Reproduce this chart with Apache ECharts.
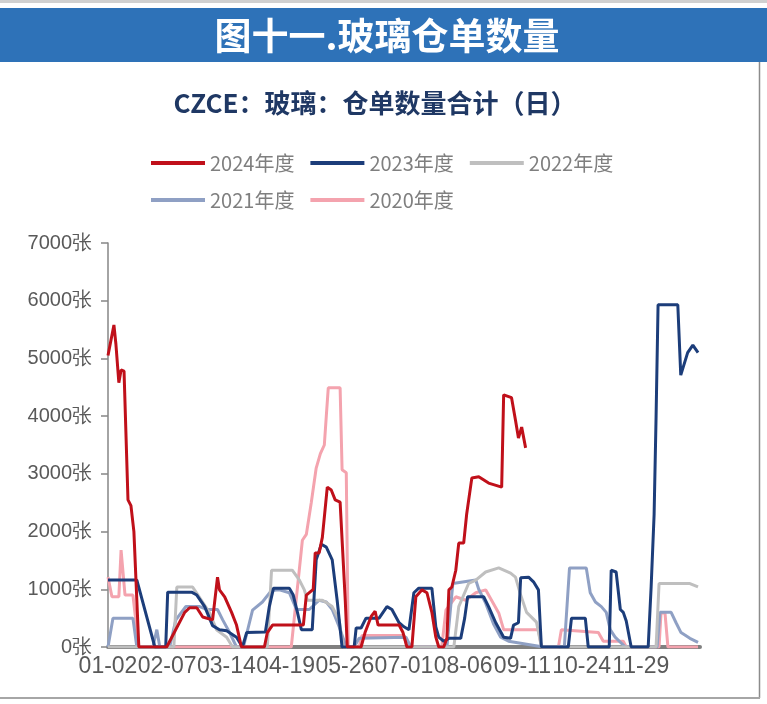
<!DOCTYPE html>
<html>
<head>
<meta charset="utf-8">
<script src="https://cdn.jsdelivr.net/npm/echarts@6/dist/echarts.min.js"></script>
<style>
html,body{margin:0;padding:0;background:#fff;}
#chart{width:767px;height:704px;}
</style>
</head>
<body>
<div id="chart"></div>
<script>
// ---- data (x = trading-day index from 01-02, y = 张) ----
const tickLabels = ['01-02','02-07','03-14','04-19','05-26','07-01','08-06','09-11','10-24','11-29'];
const seriesNames = ['2024年度','2023年度','2022年度','2021年度','2020年度'];

const s2024 = [[0,5050],[2.4,5580],[3.2,5250],[4.4,4580],[5.3,4800],[6.5,4780],[8.1,2550],[9.3,2450],[10.5,2000],[12.5,0],
  [23.8,0],[31.1,600],[33.1,680],[36,680],[38.4,520],[42.4,470],[44.4,1210],[45.2,990],[47.3,870],[50.1,600],[52.1,380],[54.1,0],
  [63.4,0],[64.6,250],[66.7,380],[79.2,380],[80.4,900],[83.2,1000],[84,1630],[85.6,1630],[86.9,1900],[88.9,2770],[90.5,2720],[92.1,2550],[94.1,2510],[96.2,800],[97,0],
  [102.6,0],[104.2,250],[106.7,530],[108.3,620],[109.5,380],[118,380],[119.6,250],[121.2,0],
  [123.2,0],[124.8,870],[127.3,990],[129.3,940],[131.3,600],[132.9,170],[134.1,0],
  [136.1,0],[137.4,150],[138.2,990],[139.4,1040],[141,1330],[142.2,1800],[144.2,1800],[145.4,2300],[147.5,2930],[150.3,2950],[154.3,2840],[159.6,2770],
  [160.4,4370],[163.6,4320],[165.2,3930],[166.4,3620],[167.7,3810],[169.3,3450]];

const s2023 = [[0,1160],[11.7,1160],[19,0],[23.4,0],[24.2,950],[33.9,950],[36,900],[39.2,700],[42.4,370],[45.2,300],[48.1,280],[52.1,170],[54.5,0],
  [56.2,250],[63.8,260],[65.4,700],[67.1,1020],[73.5,1020],[75.1,900],[76.8,600],[78.4,300],[82.8,300],[84.4,1510],[86.5,1780],[88.5,1730],[90.9,1510],[92.9,810],[94.9,0],
  [99.8,0],[100.6,330],[102.6,330],[104.6,500],[109.9,500],[113.1,700],[115.1,650],[118,420],[120,350],[122,300],[124,940],[126,1020],[131.3,1020],[132.9,350],[134.1,170],[136.1,100],
  [138.2,150],[143,150],[144.6,500],[145.8,870],[152.3,870],[154.3,700],[157.2,420],[160.4,170],[163.2,150],[164.4,380],[166.4,420],[167.3,1200],[170.5,1210],[172.5,1130],[174.5,990],[175.7,0],
  [186.6,0],[187.9,500],[193.5,500],[194.7,0],[203.2,0],[204,1330],[206,1300],[207.7,650],[208.9,600],[210.1,450],[212.1,0],
  [219,0],[220.2,1050],[221.4,2300],[222.2,4000],[223,5930],[231,5930],[232.2,4710],[233,4700],[235,5100],[237.1,5230],[239.2,5100]];

const s2022 = [[0,0],[26.7,0],[27.9,1040],[34.3,1040],[37.2,850],[41.2,590],[44,300],[48.1,170],[50.5,0],
  [64.6,0],[66.3,1330],[74.7,1330],[77.6,1160],[79.6,990],[80.8,810],[86.9,810],[88.9,760],[90.9,700],[93.7,470],[95.3,0],
  [140.2,0],[142.2,700],[146.2,1100],[149.1,1160],[153.1,1300],[158.4,1370],[163.2,1280],[165.2,1210],[167.3,900],[169.7,600],[173.7,430],[175.7,0],
  [222.2,0],[223.4,1100],[235.9,1100],[239.2,1040]];

const s2021 = [[0,0],[2,500],[10.1,500],[11.7,0],[18.2,0],[19.8,300],[21,0],[25,0],[27.5,470],[31.5,700],[37.2,700],[40,650],[44.4,650],[46.5,470],[49.3,250],[52.1,0],
  [54.9,0],[58.6,640],[62.6,780],[66.3,980],[69.5,990],[73.5,940],[76.4,650],[81.6,650],[85.6,810],[88.5,780],[90.9,650],[93.7,350],[96.6,0],
  [99.8,0],[101.8,150],[120.8,170],[122.8,0],[137.4,0],[139.8,1100],[149.1,1160],[150.3,1000],[153.1,760],[156.3,400],[159.2,170],[162.4,100],[176.5,0],
  [185,0],[187.1,1370],[193.9,1370],[195.5,940],[197.6,780],[200,700],[202,600],[203.6,300],[205.6,170],[209.7,0],
  [222.6,0],[223.8,600],[228.3,600],[230.3,420],[232.3,250],[235.9,150],[239.2,80]];

const s2020 = [[0,1210],[1.6,870],[4.4,870],[5.3,1680],[6.9,900],[10.1,900],[12.5,0],
  [74.3,0],[78.8,1850],[80.4,1950],[82.4,2500],[84.4,3100],[86.1,3350],[87.7,3500],[88.5,4000],[89.3,4490],[94.1,4490],[94.9,3070],[96.6,3020],[97.4,0],
  [101.8,0],[103,200],[120,200],[121.2,0],[135.3,0],[137,640],[141,870],[145,810],[149.1,940],[153.1,990],[158.4,590],[160.4,300],[174.5,300],[175.7,0],
  [182.6,0],[183.8,300],[198.8,250],[200.8,100],[208.9,100],[210.1,0],[223.4,0],[224.2,590],[225.8,590],[227,0],[239.2,0]];

const seriesData = [s2024, s2023, s2022, s2021, s2020];
const seriesColors = ['#C0101A', '#1C3D7A', '#BFBFBF', '#8FA0C4', '#F4A3AE'];

const chart = echarts.init(document.getElementById('chart'), null, {renderer: 'canvas'});

// draw order: 2020 at bottom, 2024 on top
const series = [];
for (let i = seriesNames.length - 1; i >= 0; i--) {
  series.push({
    name: seriesNames[i],
    type: 'line',
    data: seriesData[i],
    showSymbol: false,
    symbol: 'none',
    lineStyle: {width: 3, color: seriesColors[i]},
    itemStyle: {color: seriesColors[i]},
    z: 10 - i
  });
}

const legendText = {fontSize: 20, color: '#7F7F7F', fontFamily: 'Noto Sans CJK SC'};

chart.setOption({
  animation: false,
  backgroundColor: '#fff',
  graphic: [
    {type: 'rect', shape: {x: 0, y: 0, width: 767, height: 3}, style: {fill: '#D0D0D0'}, z: 1},
    {type: 'rect', shape: {x: 0, y: 8, width: 767, height: 54}, style: {fill: '#2E72B8'}, z: 1},
    {type: 'text', x: 387, y: 36, z: 2, style: {text: '图十一.玻璃仓单数量', fill: '#FFFFFF', font: 'bold 37px "Noto Sans CJK SC"', textAlign: 'center', textVerticalAlign: 'middle'}},
    {type: 'text', x: 375, y: 103, z: 2, style: {text: 'CZCE：玻璃：仓单数量合计（日）', fill: '#1F3864', font: 'bold 26px "Noto Sans CJK SC"', textAlign: 'center', textVerticalAlign: 'middle'}},
    {type: 'line', shape: {x1: 759.5, y1: 62, x2: 759.5, y2: 698}, style: {stroke: '#8C8C8C', lineWidth: 1.5}, z: 1},
    {type: 'line', shape: {x1: 0, y1: 698, x2: 760, y2: 698}, style: {stroke: '#A6A6A6', lineWidth: 2}, z: 1}
  ],
  legend: [
    {data: seriesNames.slice(0, 3), left: 146, top: 148, icon: 'rect', itemWidth: 54, itemHeight: 4, itemGap: 16, textStyle: legendText},
    {data: seriesNames.slice(3), left: 146, top: 185, icon: 'rect', itemWidth: 54, itemHeight: 4, itemGap: 16, textStyle: legendText}
  ],
  grid: {left: 108, right: 67, top: 243, bottom: 57, containLabel: false},
  xAxis: {
    type: 'value',
    min: 0,
    max: 240,
    interval: 24,
    splitLine: {show: false},
    axisTick: {show: false},
    axisLine: {show: true, lineStyle: {color: '#808080', width: 4}},
    axisLabel: {
      margin: 8,
      fontSize: 23,
      color: '#595959',
      fontFamily: 'Liberation Sans',
      showMaxLabel: false,
      formatter: function (v) {
        const i = Math.round(v / 24);
        return (Math.abs(v - i * 24) < 1e-6 && tickLabels[i]) ? tickLabels[i] : '';
      }
    }
  },
  yAxis: {
    type: 'value',
    min: 0,
    max: 7000,
    interval: 1000,
    splitLine: {show: false},
    axisLine: {show: true, lineStyle: {color: '#868686', width: 1.5}},
    axisTick: {show: true, inside: false, length: 7, lineStyle: {color: '#868686', width: 1.5}},
    axisLabel: {
      margin: 16,
      fontSize: 20,
      color: '#595959',
      fontFamily: 'Liberation Sans',
      formatter: function (v) { return v + '张'; }
    }
  },
  series: series
});
</script>
</body>
</html>
